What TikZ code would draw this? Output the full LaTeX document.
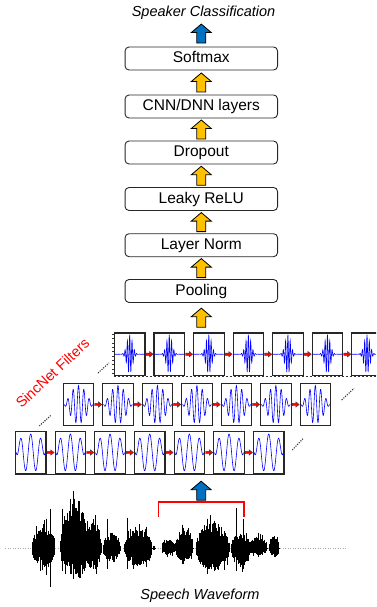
\documentclass[tikz,border=0pt]{standalone}
\usepackage{fontspec}
\setmainfont{Liberation Sans}
\usetikzlibrary{calc}
\definecolor{ayellow}{RGB}{255,192,0}
\definecolor{ablue}{RGB}{0,112,192}
\begin{document}
\begin{tikzpicture}[x=1pt,y=-1pt,
  layer/.style={draw=black!85, line width=0.9pt, rounded corners=4pt,
    minimum width=152.5pt, minimum height=23pt, inner sep=0pt,
    font=\fontsize{15.5}{18}\selectfont, text height=11.3pt, text depth=3pt},
  fbox/.style={draw=black!85, line width=1.1pt, minimum width=30.5pt,
    minimum height=42.5pt, inner sep=0pt},
  wave/.style={blue, line width=0.6pt},
  dotsline/.style={black!80, line width=1.1pt, dash pattern=on 1.1pt off 1.3pt},
  lbl/.style={font=\itshape\fontsize{14.5}{17}\selectfont, anchor=base},
  yarr/.pic={\filldraw[fill=ayellow, draw=black, line width=0.8pt, line join=miter]
    (-4.5,9.5) -- (-4.5,-1) -- (-10,-1) -- (0,-9.5) -- (10,-1) -- (4.5,-1) -- (4.5,9.5) -- cycle;},
  barr/.pic={\filldraw[fill=ablue, draw=black, line width=0.8pt, line join=miter]
    (-4.5,9.5) -- (-4.5,-1) -- (-10,-1) -- (0,-9.5) -- (10,-1) -- (4.5,-1) -- (4.5,9.5) -- cycle;},
  rarr/.pic={\filldraw[fill=red, draw=black!75, line width=0.4pt]
    (-3.5,-1.2) -- (0.2,-1.2) -- (0.2,-2.7) -- (3.6,0) -- (0.2,2.7) -- (0.2,1.2) -- (-3.5,1.2) -- cycle;}
]
\clip (0,0) rectangle (376,607);

% title and layer boxes
\node[lbl] (title) at (203.5,17) {Speaker Classification};
\node[layer] (softmax) at (201.3,58.5) {Softmax};
\node[layer] (cnn) at (201.3,106.5) {CNN/DNN layers};
\node[layer] (dropout) at (201.3,152.5) {Dropout};
\node[layer] (relu) at (201.3,199) {Leaky ReLU};
\node[layer] (norm) at (201.3,245.2) {Layer Norm};
\node[layer] (pool) at (201.3,291) {Pooling};

\pic at ($(softmax.north)+(0,-13)$) {barr};
\pic at ($(cnn.north)!0.5!(softmax.south)$) {yarr};
\pic at ($(dropout.north)!0.5!(cnn.south)$) {yarr};
\pic at ($(relu.north)!0.5!(dropout.south)$) {yarr};
\pic at ($(norm.north)!0.5!(relu.south)$) {yarr};
\pic at ($(pool.north)!0.5!(norm.south)$) {yarr};

% filter rows
\foreach \i in {1,...,7}{
  \pgfmathsetmacro\cx{129.7+39.55*(\i-1)}
  \node[fbox] (a\i) at (\cx,354.2) {};
  \begin{scope}[shift={(a\i.center)}]
    \draw[wave] plot[domain=-1:1, samples=181] ({14.8*\x},{-19.5*cos(deg(40*\x))*exp(-15*\x*\x)});
  \end{scope}
}
\foreach \i in {1,...,7}{
  \pgfmathsetmacro\cx{78.5+39.47*(\i-1)}
  \node[fbox] (b\i) at (\cx,404.5) {};
  \begin{scope}[shift={(b\i.center)}]
    \draw[wave] plot[domain=-1:1, samples=141] ({14.5*\x},{-19*cos(deg(17*\x))*exp(-1.5*\x*\x)*(1-\x*\x*\x*\x)});
  \end{scope}
}
\foreach \i in {1,...,7}{
  \pgfmathsetmacro\cx{30.7+39.67*(\i-1)}
  \node[fbox] (c\i) at (\cx,452.5) {};
  \begin{scope}[shift={(c\i.center)}]
    \draw[wave] plot[domain=-1:1, samples=101] ({14.5*\x},{-18.5*cos(deg(9*\x))*(1-\x*\x*\x*\x)});
  \end{scope}
}
\foreach \i in {1,...,6}{
  \pgfmathtruncatemacro\j{\i+1}
  \pic at ($(a\i.east)!0.5!(a\j.west)$) {rarr};
  \pic at ($(b\i.east)!0.5!(b\j.west)$) {rarr};
  \pic at ($(c\i.east)!0.5!(c\j.west)$) {rarr};
}
\draw[black!80, line width=0.6pt, dash pattern=on 2pt off 2pt] (a1.south west) -- (a7.south east);
\foreach \t in {0,...,9}{
  \draw[black!80, line width=0.5pt] ($(a1.north west)+(0,2+\t*4.3)$) -- ++(-1.6,0);
}
\draw[black!85, line width=0.7pt] (c1.south west) -- (c7.south east);

\pic at ($(pool.south)!0.5!(pool.south |- a3.north)$) {yarr};

% dots
\coordinate (d1s) at (98,373);   \coordinate (d1e) at (109,363);
\coordinate (d2s) at (39.3,426); \coordinate (d2e) at (50.7,415.5);
\coordinate (d3s) at (341.7,400);\coordinate (d3e) at (354,388.3);
\coordinate (d4s) at (292.3,450);\coordinate (d4e) at (303.3,438.3);
\draw[dotsline] (d1s) -- (d1e);
\draw[dotsline] (d2s) -- (d2e);
\draw[dotsline] (d3s) -- (d3e);
\draw[dotsline] (d4s) -- (d4e);

\node[text=red, font=\fontsize{14.5}{17}\selectfont, rotate=43] (sinc) at (52.5,373) {SincNet Filters};

% bracket and blue arrow
\coordinate (brL) at (158.3,516.7);
\coordinate (brR) at (244,516.7);
\draw[red, line width=1.6pt] (brL) -- ++(0,-15) -| (brR);
\pic at ($(brL)!0.5!(brR)+(0,-26)$) {barr};

% speech waveform
\draw[gray!70, dotted, line width=0.5pt] (5,548.5) -- (347,548.5);
\pgfmathsetseed{11}
\foreach \s/\e/\u/\d in {31.5/55/22/19, 60/90/42/27, 86/101/30/22, 103/120/16/13, 124/152/19/18,
  152.5/155/3/2, 161.5/175/9/7, 175/193/21/13, 196/229/26/23, 231/250/15/18, 249/267/12/7, 269/279/14/9}{
  \pgfmathsetmacro\sn{\s+0.4}
  \foreach \x in {\s,\sn,...,\e}{
    \pgfmathsetmacro\en{abs(sin(180*(\x-\s)/(\e-\s)))^0.4}
    \pgfmathsetmacro\up{\u*\en*(0.45+0.55*rnd)*(rnd<0.12 ? 1.35 : 1)}
    \pgfmathsetmacro\dn{\d*\en*(0.45+0.55*rnd)*(rnd<0.12 ? 1.35 : 1)}
    \draw[line width=0.5pt] (\x,{548.5-\up}) -- (\x,{548.5+\dn});
  }
}
\foreach \x/\u/\d in {50/40/38, 46/30/26, 62/40/22, 73/58/30, 70/50/25, 78/48/28, 95/32/20,
  107/30/20, 127/31/20, 146/22/18, 182/24/15, 207/30/25, 214/28/22, 236/41/22, 243/30/20, 258/16/8}{
  \draw[line width=0.7pt] (\x,{548.5-\u}) -- (\x,{548.5+\d});
}
\node[lbl] (wlab) at (200,599.5) {Speech Waveform};
\end{tikzpicture}
\end{document}
